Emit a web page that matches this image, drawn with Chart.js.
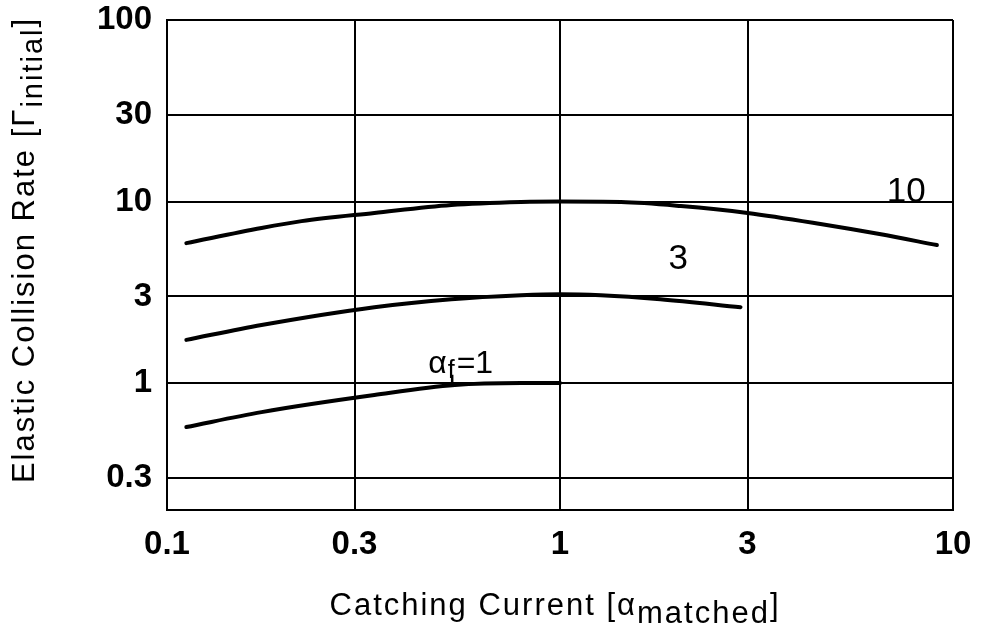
<!DOCTYPE html>
<html>
<head>
<meta charset="utf-8">
<script src="https://cdn.jsdelivr.net/npm/chart.js@4.4.1/dist/chart.umd.min.js"></script>
<style>
  html, body { margin: 0; padding: 0; background: #fff; }
  #wrap { width: 990px; height: 639px; }
</style>
</head>
<body>
<div id="wrap"><canvas id="rateChart"></canvas></div>
<script>
// tick values on both log axes
var xTicks = [0.1, 0.3, 1, 3, 10];
var yTicks = [0.3, 1, 3, 10, 30, 100];

// curves (x = catching current, y = collision rate)
var curve10X = [0.112, 0.174, 0.22, 0.337, 0.529, 0.796, 1.0, 1.43, 2.03, 3.0, 4.6, 6.5, 9.1];
var curve10Y = [5.9, 7.15, 7.8, 8.65, 9.57, 9.94, 10.0, 9.94, 9.45, 8.65, 7.52, 6.62, 5.76];

var curve3X = [0.112, 0.174, 0.337, 0.529, 0.796, 1.0, 1.27, 1.8, 2.88];
var curve3Y = [1.73, 2.09, 2.62, 2.9, 3.05, 3.09, 3.05, 2.9, 2.62];

var curve1X = [0.112, 0.174, 0.337, 0.54, 0.796, 1.0];
var curve1Y = [0.573, 0.692, 0.859, 0.975, 1.0, 1.0];

// curve labels and where they sit (data coords)
var labelText = ['1', '3', '10'];
var labelX = [0.462, 2.0, 7.6];
var labelY = [1.14, 4.8, 11.3];

function pts(xs, ys) {
    var out = [];
    for (var i = 0; i < xs.length; i++) {
        out.push({ x: xs[i], y: ys[i] });
    }
    return out;
}

var FONT = '"Liberation Sans", Arial, sans-serif';

// draws text pieces in a row, some of them as subscripts
function drawRich(ctx, parts, x, y) {
    var total = 0;
    parts.forEach(function (p) {
        ctx.font = p.font;
        p.w = ctx.measureText(p.t).width;
        total += p.w;
    });
    var cx = x - total / 2;
    parts.forEach(function (p) {
        ctx.font = p.font;
        ctx.fillText(p.t, cx, y + (p.dy || 0));
        cx += p.w;
    });
}

var textPlugin = {
    id: 'textPlugin',
    afterDraw: function (chart) {
        var ctx = chart.ctx;
        var xs = chart.scales.x, ys = chart.scales.y;
        ctx.save();
        ctx.fillStyle = '#000';
        ctx.textBaseline = 'alphabetic';
        ctx.textAlign = 'left';
        ctx.letterSpacing = '2px';

        // x axis title
        drawRich(ctx, [
            { t: 'Catching Current [\u03b1', font: '31px ' + FONT },
            { t: 'matched', font: '31px ' + FONT, dy: 8 },
            { t: ']', font: '31px ' + FONT }
        ], 555, 615);

        // y axis title, rotated
        ctx.save();
        ctx.translate(34, 250);
        ctx.rotate(-Math.PI / 2);
        drawRich(ctx, [
            { t: 'Elastic Collision Rate [\u0393', font: '31px ' + FONT },
            { t: 'initial', font: '29px ' + FONT, dy: 8 },
            { t: ']', font: '31px ' + FONT }
        ], 0, 0);
        ctx.restore();
        ctx.letterSpacing = '0px';

        // alpha_f = 1 label with its little leader to the curve
        var ax = xs.getPixelForValue(labelX[0]);
        var ay = ys.getPixelForValue(labelY[0]);
        ctx.font = '32px ' + FONT;
        ctx.fillText('\u03b1', ax, ay);
        var aw = ctx.measureText('\u03b1').width + 1;
        ctx.font = '25px ' + FONT;
        ctx.fillText('f', ax + aw, ay + 5);
        var fw = ctx.measureText('f').width + 2;
        ctx.font = '32px ' + FONT;
        ctx.fillText('=' + labelText[0], ax + aw + fw, ay);
        ctx.strokeStyle = '#000';
        ctx.lineWidth = 2.5;
        ctx.beginPath();
        ctx.moveTo(ax + aw + fw / 2, ay + 2);
        ctx.lineTo(ax + aw + fw / 2, ys.getPixelForValue(1));
        ctx.stroke();

        // the other two labels
        ctx.textAlign = 'center';
        ctx.textBaseline = 'middle';
        ctx.font = '35px ' + FONT;
        for (var i = 1; i < labelText.length; i++) {
            ctx.fillText(labelText[i], xs.getPixelForValue(labelX[i]), ys.getPixelForValue(labelY[i]));
        }
        ctx.restore();
    }
};

var lineStyle = {
    showLine: true,
    borderColor: '#000',
    borderWidth: 4,
    pointRadius: 0,
    fill: false,
    tension: 0.4,
    cubicInterpolationMode: 'monotone',
    borderCapStyle: 'round'
};

var ctx = document.getElementById('rateChart');
var rateChart = new Chart(ctx, {
    type: 'scatter',
    data: {
        datasets: [
            Object.assign({ label: '10', data: pts(curve10X, curve10Y) }, lineStyle),
            Object.assign({ label: '3', data: pts(curve3X, curve3Y) }, lineStyle),
            Object.assign({ label: '1', data: pts(curve1X, curve1Y) }, lineStyle)
        ]
    },
    options: {
        responsive: true,
        maintainAspectRatio: false,
        animation: false,
        layout: { padding: { top: 20, right: 37, left: 0, bottom: 0 } },
        plugins: {
            legend: { display: false },
            tooltip: { enabled: false }
        },
        scales: {
            x: {
                type: 'logarithmic',
                min: 0.1,
                max: 10,
                afterBuildTicks: function (s) {
                    s.ticks = xTicks.map(function (v) { return { value: v }; });
                },
                afterFit: function (s) {
                    s.height = 129;
                    s.paddingLeft = 0;
                    s.paddingRight = 0;
                },
                grid: { color: '#000', lineWidth: 2, drawTicks: false },
                border: { color: '#000', width: 2 },
                ticks: {
                    color: '#000',
                    padding: 15,
                    maxRotation: 0,
                    font: { family: FONT, size: 33, weight: 'bold' },
                    callback: function (v) { return String(v); }
                }
            },
            y: {
                type: 'logarithmic',
                min: 0.2,
                max: 100,
                afterBuildTicks: function (s) {
                    s.ticks = yTicks.map(function (v) { return { value: v }; });
                },
                afterFit: function (s) {
                    s.width = 167;
                    s.paddingTop = 0;
                    s.paddingBottom = 0;
                },
                grid: { color: '#000', lineWidth: 2, drawTicks: false },
                border: { color: '#000', width: 2 },
                ticks: {
                    color: '#000',
                    padding: 15,
                    font: { family: FONT, size: 33, weight: 'bold' },
                    callback: function (v) { return String(v); }
                }
            }
        }
    },
    plugins: [textPlugin]
});
</script>
</body>
</html>
